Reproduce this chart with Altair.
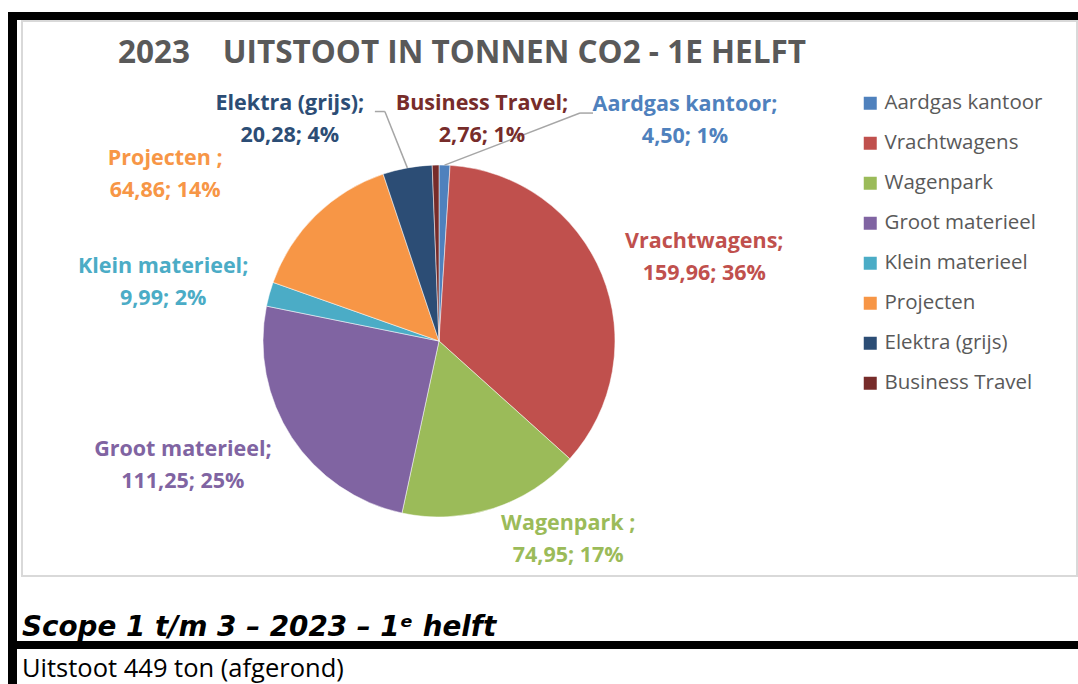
import math
import altair as alt
import pandas as pd

# ---------------- data ----------------
categories = ["Aardgas kantoor", "Vrachtwagens", "Wagenpark", "Groot materieel",
              "Klein materieel", "Projecten", "Elektra (grijs)", "Business Travel"]
values = [4.50, 159.96, 74.95, 111.25, 9.99, 64.86, 20.28, 2.76]
percents = [1, 36, 17, 25, 2, 14, 4, 1]
label_names = ["Aardgas kantoor;", "Vrachtwagens;", "Wagenpark ;", "Groot materieel;",
               "Klein materieel;", "Projecten ;", "Elektra (grijs);", "Business Travel;"]
colors = ["#4F81BD", "#C0504D", "#9BBB59", "#8064A2", "#4BACC6", "#F79646", "#2C4D75", "#772C2A"]

title_text = "2023\u00a0\u00a0\u00a0 UITSTOOT IN TONNEN CO2 - 1E HELFT"
caption_bold = "Scope 1 t/m 3 \u2013 2023 \u2013 1\u1d49 helft"
caption_plain = "Uitstoot 449 ton (afgerond)"

# ---------------- layout ----------------
W, H = 1078, 684
CX, CY, R = 439, 341, 176
FONT = "Open Sans"
LINE_H = 32
# label placement: (angle shift in degrees from slice mid-angle, distance from centre)
label_place = {
    "Aardgas kantoor": (46.4, 330), "Vrachtwagens": (4.8, 278), "Wagenpark": (-15.1, 237),
    "Groot materieel": (7.2, 285), "Klein materieel": (-3.5, 282), "Projecten": (-14.3, 320),
    "Elektra (grijs)": (-23.6, 267), "Business Travel": (12.1, 225),
}
# leader-line knee offsets relative to the label centre
leaders = {"Elektra (grijs)": [(85, -8), (95, -8)], "Aardgas kantoor": [(-92, -8), (-105, -8)]}

total = sum(values)
rows = []
cum = 0.0
for i, (c, v) in enumerate(zip(categories, values)):
    mid = (cum + v / 2) / total * 360.0
    cum += v
    shift, dist = label_place[c]
    a = math.radians(mid + shift)
    lx = CX + dist * math.sin(a)
    ly = CY - dist * math.cos(a)
    value_txt = f"{v:.2f}".replace(".", ",")
    rows.append(dict(category=c, value=v, idx=i, mid=mid, lx=lx, ly=ly,
                     ty=ly - LINE_H / 2,
                     label=f"{label_names[i]}\n{value_txt}; {percents[i]}%"))
df = pd.DataFrame(rows)

seg_rows = []
for c, knees in leaders.items():
    r = df[df.category == c].iloc[0]
    a = math.radians(r["mid"])
    ex, ey = CX + R * math.sin(a), CY - R * math.cos(a)
    (k1x, k1y), (k2x, k2y) = knees
    p1 = (r["lx"] + k1x, r["ly"] + k1y)
    p2 = (r["lx"] + k2x, r["ly"] + k2y)
    seg_rows.append(dict(x1=p1[0], y1=p1[1], x2=p2[0], y2=p2[1]))
    seg_rows.append(dict(x1=p2[0], y1=p2[1], x2=ex, y2=ey))
seg = pd.DataFrame(seg_rows)

one = pd.DataFrame({"k": [0]})
color_scale = alt.Scale(domain=categories, range=colors)

frame = alt.Chart(one).mark_rect(fill="white", stroke="#d9d9d9", strokeWidth=2).encode(
    x=alt.value(22), x2=alt.value(1077), y=alt.value(21), y2=alt.value(576))

bars = []
for (x1, x2, y1, y2) in [(8, W, 12, 20), (8, 17, 12, H), (8, W, 641, 649)]:
    bars.append(alt.Chart(one).mark_rect(color="black").encode(
        x=alt.value(x1), x2=alt.value(x2), y=alt.value(y1), y2=alt.value(y2)))

pie = alt.Chart(df).mark_arc(radius=R, stroke="white", strokeWidth=0.5).encode(
    theta=alt.Theta("value:Q", stack=True),
    color=alt.Color("category:N", scale=color_scale, sort=categories,
                    legend=alt.Legend(orient="none", legendX=860, legendY=93, title=None,
                                      symbolType="square", symbolSize=169, symbolStrokeWidth=0,
                                      labelFont=FONT, labelFontSize=20.5, labelColor="#595959",
                                      rowPadding=19, labelOffset=4, padding=0)),
    order=alt.Order("idx:Q"),
    x=alt.value(CX), y=alt.value(CY),
)

leader = alt.Chart(seg).mark_rule(color="#a6a6a6", strokeWidth=1.5).encode(
    x=alt.X("x1:Q", scale=None), y=alt.Y("y1:Q", scale=None),
    x2="x2:Q", y2="y2:Q")

labels = alt.Chart(df).mark_text(font=FONT, fontSize=21.5, fontWeight="bold", lineBreak="\n",
                                 lineHeight=LINE_H, align="center", baseline="middle").encode(
    x=alt.X("lx:Q", scale=None), y=alt.Y("ty:Q", scale=None), text="label:N",
    color=alt.Color("category:N", scale=color_scale, sort=categories, legend=None))

title = alt.Chart(one).mark_text(text=title_text, font=FONT, fontSize=31.5, fontWeight="bold",
                                 color="#595959", align="center", baseline="alphabetic").encode(
    x=alt.value(462), y=alt.value(63))

cap1 = alt.Chart(one).mark_text(text=caption_bold, font="DejaVu Sans", fontSize=27.8,
                                fontWeight="bold", fontStyle="italic", color="black",
                                align="left", baseline="alphabetic").encode(
    x=alt.value(22), y=alt.value(636))

cap2 = alt.Chart(one).mark_text(text=caption_plain, font=FONT, fontSize=25.5, color="black",
                                align="left", baseline="alphabetic").encode(
    x=alt.value(22), y=alt.value(677))

chart = alt.layer(frame, *bars, pie, leader, labels, title, cap1, cap2).properties(
    width=W, height=H, padding=0, autosize=alt.AutoSizeParams(type="none"),
    background="white"
).configure_view(stroke=None)

chart.save("out.html", embed_options={"renderer": "svg", "actions": False})
